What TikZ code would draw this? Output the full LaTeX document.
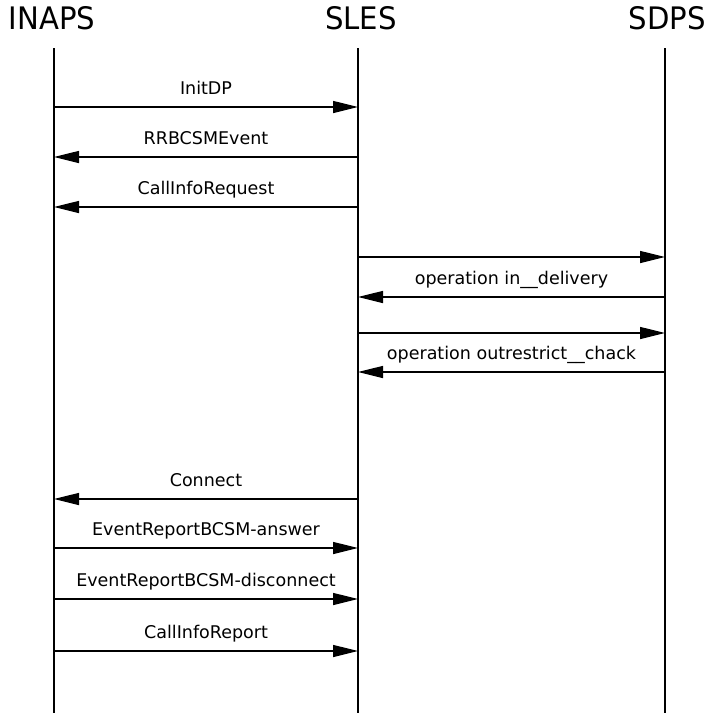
\documentclass[tikz,border=0pt]{standalone}
\usepackage{fontspec}
\setmainfont{DejaVu Sans}
\newfontfamily\titlefont[FakeStretch=0.94]{DejaVu Sans}
\usetikzlibrary{arrows.meta}
\tikzset{
  title/.style={font=\titlefont\fontsize{31pt}{31pt}\selectfont, inner sep=0pt},
  life/.style={line width=1.5pt},
  msg/.style={line width=1.3pt, -{Triangle[length=25pt,width=12pt]}},
  lab/.style={midway, anchor=base, yshift=13pt, inner sep=0pt, font=\fontsize{17.5pt}{17.5pt}\selectfont}
}
\begin{document}
\begin{tikzpicture}[x=1pt,y=-1pt]
\useasboundingbox (0,0) rectangle (715,713);
% titles
\node[title] (INAPS) at (52,18.5) {INAPS};
\node[title] (SLES) at (361,18.5) {SLES};
\node[title] (SDPS) at (667,18.5) {SDPS};
% lifelines
\coordinate (It) at (54,48);  \coordinate (Ib) at (54,713);
\coordinate (St) at (358,48); \coordinate (Sb) at (358,713);
\coordinate (Dt) at (665,48); \coordinate (Db) at (665,713);
\draw[life] (It) -- (Ib);
\draw[life] (St) -- (Sb);
\draw[life] (Dt) -- (Db);
% message end points
\foreach \n/\y in {1/107,2/157,3/207,4/257,5/297,6/333,7/372,8/499,9/548,10/599,11/651}{
  \coordinate (i\n) at (54,\y);
  \coordinate (s\n) at (358,\y);
  \coordinate (d\n) at (665,\y);
}
% messages
\draw[msg] (i1) -- node[lab]{InitDP} (s1);
\draw[msg] (s2) -- node[lab]{RRBCSMEvent} (i2);
\draw[msg] (s3) -- node[lab]{CallInfoRequest} (i3);
\draw[msg] (s4) -- (d4);
\draw[msg] (d5) -- node[lab]{operation in\_\_delivery} (s5);
\draw[msg] (s6) -- (d6);
\draw[msg] (d7) -- node[lab]{operation outrestrict\_\_chack} (s7);
\draw[msg] (s8) -- node[lab]{Connect} (i8);
\draw[msg] (i9) -- node[lab]{EventReportBCSM-answer} (s9);
\draw[msg] (i10) -- node[lab]{EventReportBCSM-disconnect} (s10);
\draw[msg] (i11) -- node[lab]{CallInfoReport} (s11);
\end{tikzpicture}
\end{document}
